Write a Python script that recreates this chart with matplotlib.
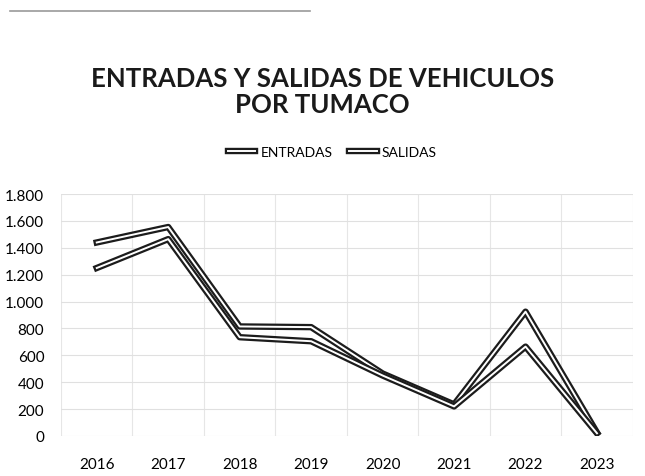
import matplotlib.pyplot as plt
import matplotlib.patheffects as pe
from matplotlib.lines import Line2D
import numpy as np

# Datos
anios = ['2016', '2017', '2018', '2019', '2020', '2021', '2022', '2023']
entradas = [1440, 1555, 815, 810, 465, 235, 925, 25]
salidas = [1250, 1465, 735, 705, 450, 220, 665, 20]
yticks = [0, 200, 400, 600, 800, 1000, 1200, 1400, 1600, 1800]

plt.rcParams['font.family'] = ['Lato', 'DejaVu Sans']

fig = plt.figure(figsize=(6.45, 4.77), dpi=100)
ax = fig.add_axes([0.0946, 0.0839, 0.8864, 0.5071])

x = np.arange(len(anios))
efecto = [pe.Stroke(linewidth=4.6, foreground='#1c1c1c'), pe.Normal()]
ax.plot(x, entradas, color='white', lw=1.4, label='ENTRADAS', path_effects=efecto,
        solid_joinstyle='round')
ax.plot(x, salidas, color='white', lw=1.4, label='SALIDAS', path_effects=efecto,
        solid_joinstyle='round')

ax.set_xlim(-0.5, len(anios) - 0.5)
ax.set_ylim(0, 1800)
ax.set_xticks(x)
ax.set_xticklabels(anios, fontsize=11)
ax.set_yticks(yticks)
ax.set_yticklabels([f"{v:,.0f}".replace(',', '.') for v in yticks], fontsize=11)
ax.tick_params(length=0, pad=12)
ax.tick_params(axis='x', pad=15)

# Rejilla: horizontales cada 200, verticales entre categorías
ax.set_xticks(np.arange(-0.5, len(anios)), minor=True)
ax.grid(axis='y', color='#e0e0e0', lw=0.8)
ax.grid(axis='x', which='minor', color='#e6e6e6', lw=0.8)
ax.tick_params(which='minor', length=0)
ax.set_axisbelow(True)
for s in ax.spines.values():
    s.set_visible(False)

fig.text(0.5, 0.808, 'ENTRADAS Y SALIDAS DE VEHICULOS\nPOR TUMACO', ha='center', va='center',
         fontsize=18.5, fontweight='bold', color='#1a1a1a', linespacing=1.1)

fig.legend(loc='center', bbox_to_anchor=(0.515, 0.679), ncol=2, frameon=False, fontsize=10,
           handlelength=2.0, columnspacing=1.2, handletextpad=0.35)

# borde del escaneo arriba a la izquierda
fig.add_artist(Line2D([0.015, 0.48], [0.975, 0.975], color='#9a9a9a', lw=1.2))

fig.savefig('out.png', dpi=100)
